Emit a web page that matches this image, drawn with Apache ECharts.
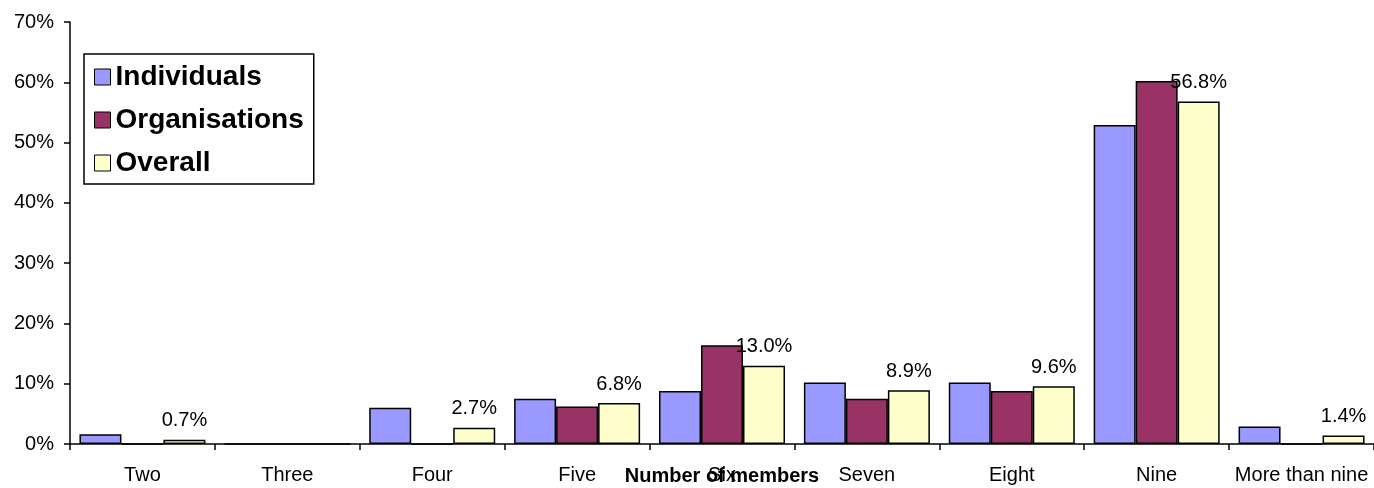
<!DOCTYPE html>
<html>
<head>
<meta charset="utf-8">
<script src="https://cdn.jsdelivr.net/npm/echarts@6/dist/echarts.min.js"></script>
<style>
html,body{margin:0;padding:0;background:#fff;}
#chart{width:1374px;height:488px;}
</style>
</head>
<body>
<div id="chart"></div>
<script>
var categories = ['Two','Three','Four','Five','Six','Seven','Eight','Nine','More than nine'];
var individuals = [1.6, 0, 6.0, 7.5, 8.8, 10.2, 10.2, 52.9, 2.9];
var organisations = [0, 0, 0, 6.2, 16.4, 7.5, 8.8, 60.2, 0];
var overall = [0.7, 0, 2.7, 6.8, 13.0, 8.9, 9.6, 56.8, 1.4];
var yTicks = [0, 10, 20, 30, 40, 50, 60, 70];

var FONT = '"Liberation Sans", Arial, sans-serif';
var chart = echarts.init(document.getElementById('chart'));

function barSeries(name, data, color, labels) {
  return {
    name: name,
    type: 'bar',
    data: data,
    barWidth: 42,
    barGap: '0%',
    itemStyle: { color: color, borderColor: '#000', borderWidth: 1.5 },
    label: labels ? {
      show: true,
      position: 'top',
      distance: 9,
      fontFamily: FONT,
      fontSize: 20,
      color: '#000',
      formatter: function (p) { return p.value === 0 ? '' : p.value.toFixed(1) + '%'; }
    } : { show: false },
    emphasis: { disabled: true },
    animation: false
  };
}

chart.setOption({
  animation: false,
  textStyle: { fontFamily: FONT },
  grid: { left: 70, right: 0, top: 22, bottom: 44, containLabel: false, outerBoundsMode: 'none' },
  legend: {
    orient: 'vertical',
    left: 84,
    top: 54,
    padding: [9, 10, 7, 10],
    itemGap: 15,
    itemWidth: 16,
    itemHeight: 16,
    icon: 'rect',
    backgroundColor: '#fff',
    borderColor: '#000',
    borderWidth: 1.5,
    itemStyle: { borderColor: '#000', borderWidth: 1 },
    textStyle: { fontFamily: FONT, fontSize: 28, fontWeight: 'bold', color: '#000', padding: [0, 0, 0, 0] },
    data: ['Individuals', 'Organisations', 'Overall']
  },
  xAxis: {
    type: 'category',
    data: categories,
    name: 'Number of members',
    nameLocation: 'middle',
    nameGap: 22,
    nameMoveOverlap: false,
    nameTextStyle: { fontFamily: FONT, fontSize: 20, fontWeight: 'bold', color: '#000' },
    axisLine: { lineStyle: { color: '#000', width: 1.5 } },
    axisTick: { show: true, length: 6, lineStyle: { color: '#000', width: 1.5 } },
    axisLabel: { fontFamily: FONT, fontSize: 20, color: '#000', margin: 21, interval: 0 },
    splitLine: { show: false }
  },
  yAxis: {
    type: 'value',
    min: yTicks[0],
    max: yTicks[yTicks.length - 1],
    interval: 10,
    axisLine: { show: true, lineStyle: { color: '#000', width: 1.5 } },
    axisTick: { show: true, length: 6, lineStyle: { color: '#000', width: 1.5 } },
    axisLabel: { fontFamily: FONT, fontSize: 20, color: '#000', margin: 16, formatter: '{value}%' },
    splitLine: { show: false }
  },
  series: [
    barSeries('Individuals', individuals, '#9999FF', false),
    barSeries('Organisations', organisations, '#993366', false),
    barSeries('Overall', overall, '#FFFFCC', true)
  ]
});
</script>
</body>
</html>
